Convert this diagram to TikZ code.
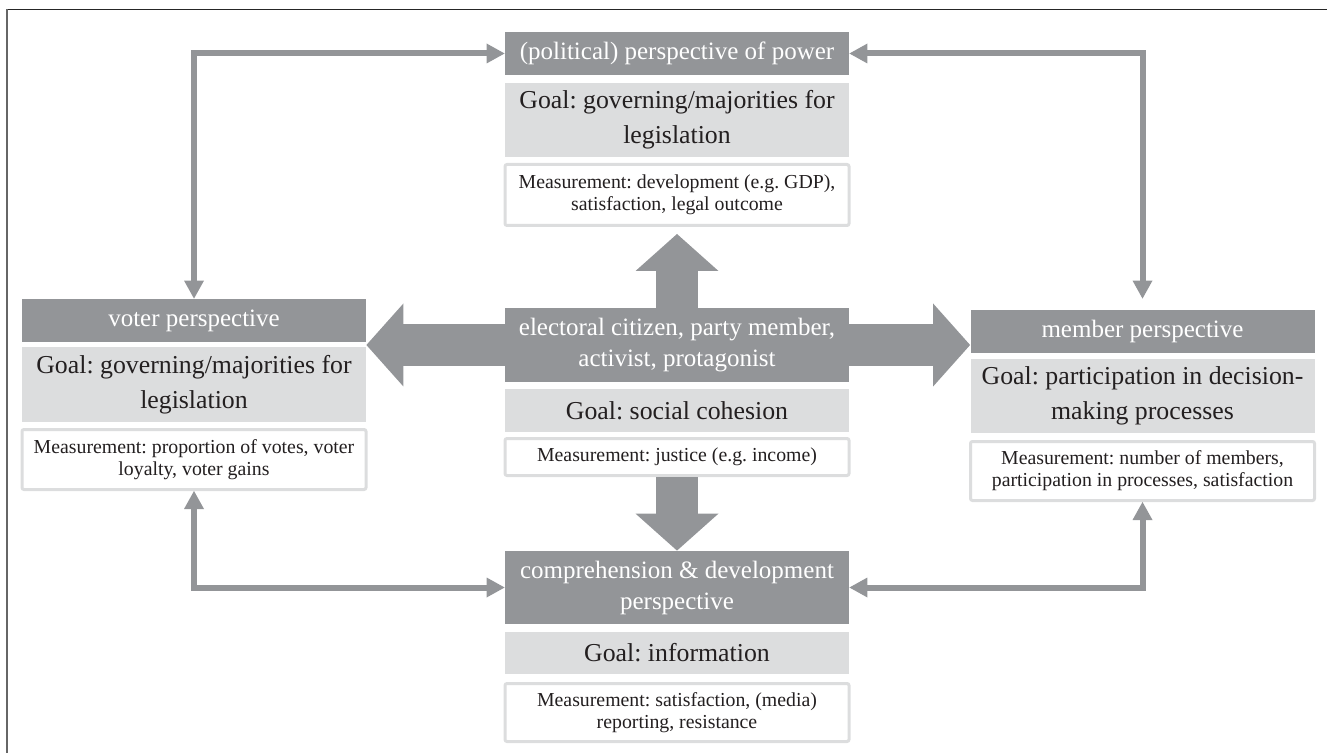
\documentclass[tikz,border=0pt]{standalone}
\usepackage{fontspec}
\setmainfont{Liberation Serif}
\usetikzlibrary{arrows.meta}
\frenchspacing

\definecolor{darkbox}{HTML}{939598}
\definecolor{lightbox}{HTML}{DCDDDE}
\definecolor{boxtext}{HTML}{231F20}

\begin{document}
\begin{tikzpicture}[x=0.5pt,y=-0.5pt,
  head/.style={fill=darkbox,text=white,minimum width=172pt,align=center,inner sep=0pt,
    font=\fontsize{12.5}{15.5}\selectfont},
  goal/.style={fill=lightbox,text=boxtext,minimum width=172pt,align=center,inner sep=0pt,
    font=\fontsize{12.9}{17.5}\selectfont},
  measure/.style={fill=white,draw=lightbox,line width=1.5pt,rounded corners=1pt,text=boxtext,
    minimum width=172pt,align=center,inner sep=0pt,font=\fontsize{9.9}{11}\selectfont},
  fat/.style={draw=darkbox,line width=21pt,
    >={Triangle[width=41.5pt,length=18.5pt,line width=0pt,fill=darkbox]}},
  slim/.style={draw=darkbox,line width=3pt,<->,
    >={Triangle[width=10pt,length=9pt,line width=0pt,fill=darkbox]}}]

\useasboundingbox (0,0) rectangle (1327,753);
\draw[line width=0.6pt,black!85] (7,9.5) -- (1327,9.5);
\draw[line width=0.8pt,black!60] (7,9.5) -- (7,753);

% top
\node[head,minimum height=21.5pt] (power) at (677,53.5) {(political) perspective of power};
\node[goal,minimum height=37pt] (powergoal) at (677,120) {Goal: governing/majorities for\\legislation};
\node[measure,minimum height=30.5pt] (powermeas) at (677,195) {Measurement: development (e.g. GDP),\\satisfaction, legal outcome};

% left
\node[head,minimum height=21.5pt] (voter) at (194,320.5) {voter perspective};
\node[goal,minimum height=37.5pt] (votergoal) at (194,384.5) {Goal: governing/majorities for\\legislation};
\node[measure,minimum height=30pt] (votermeas) at (194,459.5) {Measurement: proportion of votes, voter\\loyalty, voter gains};

% right
\node[head,minimum height=21.5pt] (member) at (1142.5,331.5) {member perspective};
\node[goal,minimum height=37pt] (membergoal) at (1142.5,396) {Goal: participation in decision-\\making processes};
\node[measure,minimum height=29.5pt] (membermeas) at (1142.5,471) {Measurement: number of members,\\participation in processes, satisfaction};

% centre
\draw[fat,<->] (voter.east |- 677,345) -- (member.west |- 677,345);
\node[head,minimum height=37pt] (citizen) at (677,345) {electoral citizen, party member,\\activist, protagonist};
\node[goal,minimum height=21.5pt] (citizengoal) at (677,410.5) {Goal: social cohesion};
\node[measure,minimum height=18.5pt] (citizenmeas) at (677,457) {Measurement: justice (e.g. income)};

% bottom
\node[head,minimum height=36.5pt] (comp) at (677,587.5) {comprehension \& development\\perspective};
\node[goal,minimum height=21pt] (compgoal) at (677,653) {Goal: information};
\node[measure,minimum height=29pt] (compmeas) at (677,712.5) {Measurement: satisfaction, (media)\\reporting, resistance};

\draw[fat,->,shorten >=3.5pt] (citizen.north) -- (powermeas.south);
\draw[fat,->] (citizenmeas.south) -- (comp.north);

\draw[slim] (voter.north) |- (power.west);
\draw[slim,shorten <=5.5pt] (member.north) |- (power.east);
\draw[slim] (votermeas.south) |- (comp.west);
\draw[slim] (membermeas.south) |- (comp.east);
\end{tikzpicture}
\end{document}
